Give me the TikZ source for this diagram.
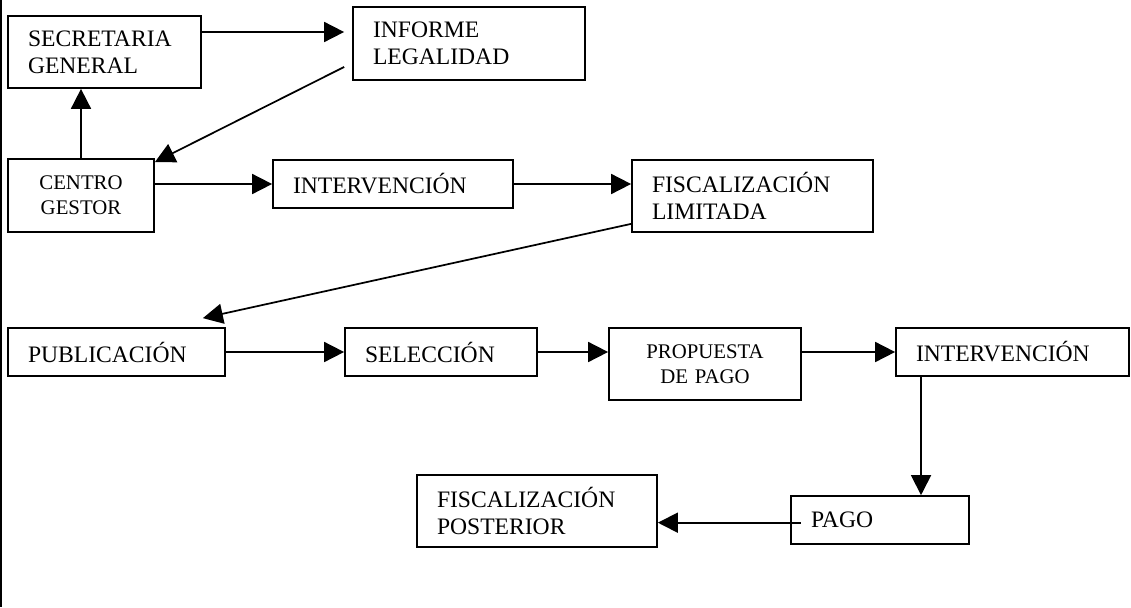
\documentclass[tikz,border=0pt]{standalone}
\usepackage{fontspec}
\setmainfont{Liberation Serif}
\usetikzlibrary{arrows.meta}
\begin{document}
\begin{tikzpicture}[x=0.75pt, y=-0.75pt, line width=1.3pt]
    \tikzset{>={Triangle[length=15pt,width=15pt]}}
    \tikzset{caja/.style={draw, inner xsep=15pt, inner ysep=2pt, align=left, font=\fontsize{17.7}{20.25}\selectfont}}
    \tikzset{cajac/.style={caja, align=center, font=\fontsize{15.6}{19}\selectfont}}
    \useasboundingbox (0,0) rectangle (1131,607);
    \draw (0.7,0) -- (0.7,607);
    % fila de arriba
    \node [caja, text width=114.75pt, minimum height=54pt] (secr) at (104.5,52) {SECRETARIA\\GENERAL};
    \node [caja, text width=144pt, minimum height=54.75pt] (inf) at (469,43.5) {INFORME\\LEGALIDAD};
    \node [cajac, text width=79.5pt, minimum height=54.75pt] (cent) at (81,195.5) {CENTRO\\GESTOR};
    \node [caja, text width=150pt, minimum height=36pt] (int1) at (393,184) {INTERVENCIÓN};
    \node [caja, text width=150.75pt, minimum height=54pt] (fisl) at (752.5,196) {FISCALIZACIÓN\\LIMITADA};
    % fila del medio
    \node [caja, text width=132.75pt, minimum height=36pt] (pub) at (116.5,352) {PUBLICACIÓN};
    \node [caja, text width=114pt, minimum height=36pt] (sel) at (441,352) {SELECCIÓN};
    \node [cajac, text width=114pt, minimum height=54pt] (prop) at (705,364) {PROPUESTA\\DE PAGO};
    \node [caja, text width=144.75pt, minimum height=36pt] (int2) at (1012.5,352) {INTERVENCIÓN};
    % fila de abajo
    \node [caja, text width=150pt, minimum height=54pt] (fisp) at (537,511) {FISCALIZACIÓN\\POSTERIOR};
    \node [caja, text width=103.5pt, minimum height=36pt] (pago) at (880,520) {PAGO};
    % flechas
    \draw [->, shorten >=6pt] ([yshift=15pt]secr.east) -- ([yshift=15pt]secr.east -| inf.west);
    \draw [->] ([xshift=-6pt,yshift=-17.6pt]inf.west) -- ([yshift=-3pt]cent.north east);
    \draw [->] (cent.north) -- (cent.north |- secr.south);
    \draw [->] (cent.east |- int1.west) -- (int1.west);
    \draw [->] (int1.east) -- (int1.east -| fisl.west);
    \draw [->] ([yshift=6.75pt]fisl.south west) -- ([xshift=-17.25pt,yshift=6.75pt]pub.north east);
    \draw [->] (pub.east) -- (sel.west);
    \draw [->] (sel.east) -- (sel.east -| prop.west);
    \draw [->] (prop.east |- int2.west) -- (int2.west);
    \draw [->] ([xshift=-68.6pt]int2.south) -- ([xshift=-68.6pt]int2.south |- pago.north);
    \draw [->] ([xshift=8pt,yshift=-2pt]pago.west) -- ([yshift=-2pt]pago.west -| fisp.east);
\end{tikzpicture}
\end{document}
